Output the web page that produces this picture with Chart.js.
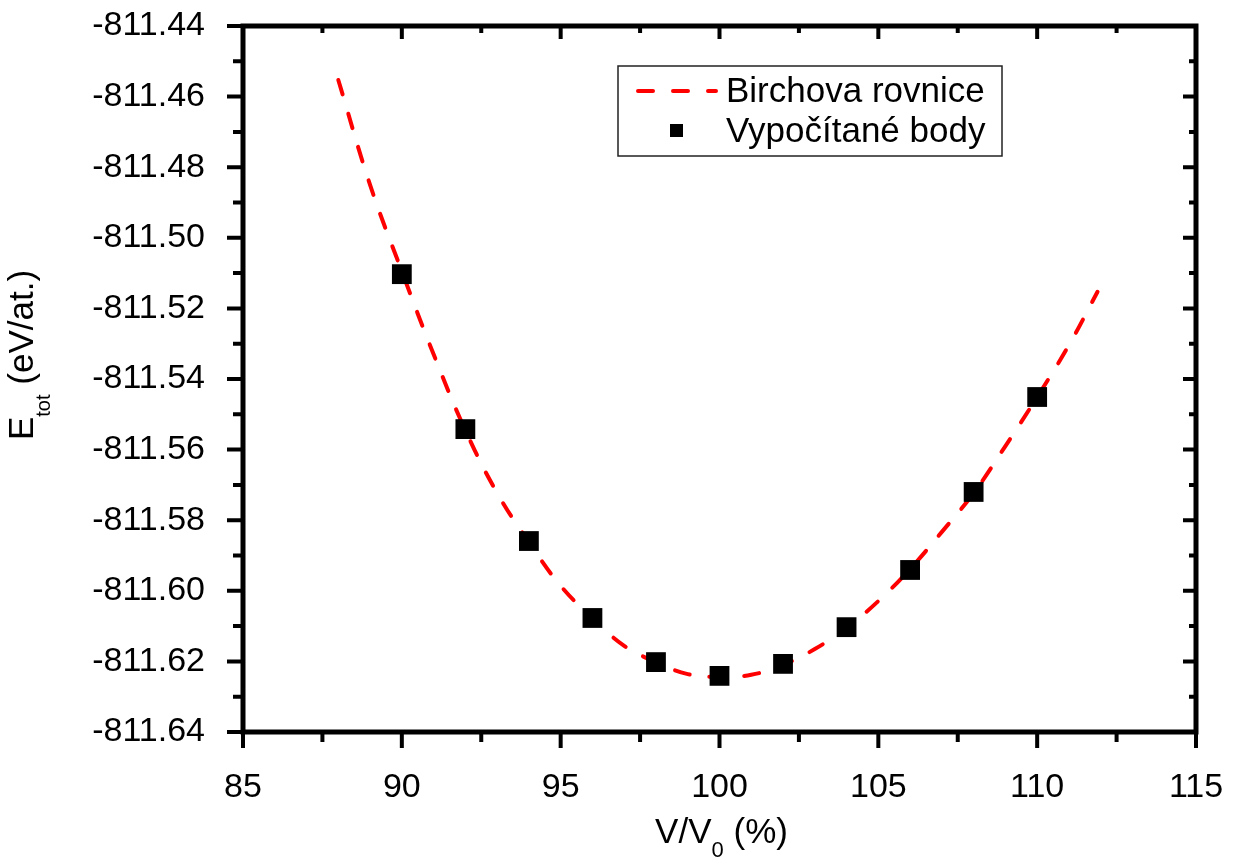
<!DOCTYPE html>
<html>
<head>
<meta charset="utf-8">
<script src="https://cdn.jsdelivr.net/npm/chart.js@4.4.1/dist/chart.umd.min.js"></script>
<style>
  body { margin: 0; background: #fff; }
</style>
</head>
<body>
<canvas id="eos" width="1239" height="865"></canvas>
<script>
// computed points
var volume = [90, 92, 94, 96, 98, 100, 102, 104, 106, 108, 110];
var energy = [-811.5103, -811.5542, -811.5859, -811.6077, -811.6202, -811.6241, -811.6207, -811.6103, -811.5941, -811.5720, -811.5451];

// Birch fit curve
var fitVolume = [88, 89, 90, 91, 92, 93, 94, 95, 96, 97, 98, 99, 100, 101, 102, 103, 104, 105, 106, 107, 108, 109, 110, 111, 111.9];
var fitEnergy = [-811.4553, -811.4850, -811.5095, -811.5330, -811.5545, -811.5723, -811.5862, -811.5986, -811.6077, -811.6156, -811.6202, -811.6236,
                 -811.6244, -811.6238, -811.6210, -811.6165, -811.6105, -811.6029, -811.5938, -811.5833, -811.5723, -811.5590, -811.5451, -811.5304, -811.5153];

var xTicks = [85, 90, 95, 100, 105, 110, 115];
var yTicks = [-811.64, -811.62, -811.60, -811.58, -811.56, -811.54, -811.52, -811.50, -811.48, -811.46, -811.44];

var FONT = "'Liberation Sans', Arial, sans-serif";

function toXY(xs, ys) {
  return xs.map(function (v, i) { return { x: v, y: ys[i] }; });
}

// text with subscript parts, centred on (cx, base)
function drawRich(ctx, parts, cx, base) {
  var total = 0;
  parts.forEach(function (p) {
    ctx.font = p.size + 'px ' + FONT;
    p.w = ctx.measureText(p.t).width;
    total += p.w;
  });
  var x = cx - total / 2;
  parts.forEach(function (p) {
    ctx.font = p.size + 'px ' + FONT;
    ctx.fillText(p.t, x, base + (p.dy || 0));
    x += p.w;
  });
}

var framePlugin = {
  id: 'frame',
  afterDraw: function (chart) {
    var ctx = chart.ctx;
    var a = chart.chartArea;
    var xs = chart.scales.x, ys = chart.scales.y;
    ctx.save();
    ctx.strokeStyle = '#000';
    ctx.fillStyle = '#000';

    // ticks
    ctx.lineWidth = 4;
    ctx.lineCap = 'butt';
    function xTick(v, out, inn) {
      var px = xs.getPixelForValue(v);
      ctx.beginPath();
      ctx.moveTo(px, a.bottom); ctx.lineTo(px, a.bottom + out);
      ctx.moveTo(px, a.top); ctx.lineTo(px, a.top + inn);
      ctx.stroke();
    }
    function yTick(v, out, inn) {
      var py = ys.getPixelForValue(v);
      ctx.beginPath();
      ctx.moveTo(a.left, py); ctx.lineTo(a.left - out, py);
      ctx.moveTo(a.right, py); ctx.lineTo(a.right - inn, py);
      ctx.stroke();
    }
    xTicks.forEach(function (v, i) {
      xTick(v, 16, 13);
      if (i < xTicks.length - 1) xTick((v + xTicks[i + 1]) / 2, 10, 7);
    });
    yTicks.forEach(function (v, i) {
      yTick(v, 16, 13);
      if (i < yTicks.length - 1) yTick((v + yTicks[i + 1]) / 2, 10, 7);
    });

    // frame
    ctx.lineWidth = 5;
    ctx.strokeRect(a.left, a.top, a.right - a.left, a.bottom - a.top);

    // axis titles
    ctx.textAlign = 'left';
    ctx.textBaseline = 'alphabetic';
    drawRich(ctx, [
      { t: 'V/V', size: 35 },
      { t: '0', size: 22, dy: 14 },
      { t: ' (%)', size: 35 }
    ], (a.left + a.right) / 2 + 2, 843);

    ctx.save();
    ctx.translate(33, 355);
    ctx.rotate(-Math.PI / 2);
    drawRich(ctx, [
      { t: 'E', size: 35 },
      { t: 'tot', size: 20, dy: 17 },
      { t: ' (eV/at.)', size: 35 }
    ], 0, 0);
    ctx.restore();

    // legend box
    var lx = a.left + 375, ly = a.top + 40;
    ctx.lineWidth = 1.5;
    ctx.strokeStyle = '#222';
    ctx.strokeRect(lx, ly, 384, 90);

    var fit = chart.data.datasets[0], pts = chart.data.datasets[1];
    ctx.strokeStyle = fit.borderColor;
    ctx.lineWidth = fit.borderWidth;
    ctx.setLineDash(fit.borderDash);
    ctx.lineCap = 'round';
    ctx.beginPath();
    ctx.moveTo(lx + 20, ly + 25);
    ctx.lineTo(lx + 98, ly + 25);
    ctx.stroke();
    ctx.setLineDash([]);

    ctx.fillStyle = pts.backgroundColor;
    ctx.fillRect(lx + 52, ly + 58, 13, 13);

    ctx.fillStyle = '#000';
    ctx.font = '35px ' + FONT;
    ctx.textBaseline = 'middle';
    ctx.fillText(fit.label, lx + 108, ly + 26);
    ctx.fillText(pts.label, lx + 108, ly + 66);
    ctx.restore();
  }
};

function create_Chart() {
  new Chart(document.getElementById('eos'), {
    type: 'scatter',
    data: {
      datasets: [
        {
          label: 'Birchova rovnice',
          data: toXY(fitVolume, fitEnergy),
          showLine: true,
          borderColor: '#ff0000',
          borderWidth: 4,
          borderDash: [15, 20],
          borderCapStyle: 'round',
          tension: 0.4,
          pointRadius: 0,
          fill: false,
          order: 2
        },
        {
          label: 'Vypočítané body',
          data: toXY(volume, energy),
          showLine: false,
          pointStyle: 'rect',
          pointRadius: 14,
          backgroundColor: '#000',
          borderColor: '#000',
          borderWidth: 0,
          order: 1
        }
      ]
    },
    options: {
      responsive: false,
      animation: false,
      devicePixelRatio: 1,
      layout: { padding: { top: 26, right: 43, left: 0, bottom: 0 } },
      plugins: {
        legend: { display: false },
        tooltip: { enabled: false }
      },
      scales: {
        x: {
          type: 'linear',
          min: 85,
          max: 115,
          grid: { display: false },
          border: { display: false },
          afterBuildTicks: function (s) { s.ticks = xTicks.map(function (v) { return { value: v }; }); },
          afterFit: function (s) {
            s.height = 133;
            s.paddingLeft = 0; s.paddingRight = 0;
          },
          ticks: {
            color: '#000',
            padding: 27,
            font: { family: FONT, size: 34 },
            callback: function (v) { return v; }
          }
        },
        y: {
          type: 'linear',
          min: -811.64,
          max: -811.44,
          grid: { display: false },
          border: { display: false },
          afterBuildTicks: function (s) { s.ticks = yTicks.map(function (v) { return { value: v }; }); },
          afterFit: function (s) {
            s.width = 243;
            s.paddingTop = 0; s.paddingBottom = 0;
          },
          ticks: {
            color: '#000',
            padding: 30,
            font: { family: FONT, size: 34 },
            callback: function (v) { return v.toFixed(2); }
          }
        }
      }
    },
    plugins: [framePlugin]
  });
}

document.addEventListener('DOMContentLoaded', create_Chart);
</script>
</body>
</html>
